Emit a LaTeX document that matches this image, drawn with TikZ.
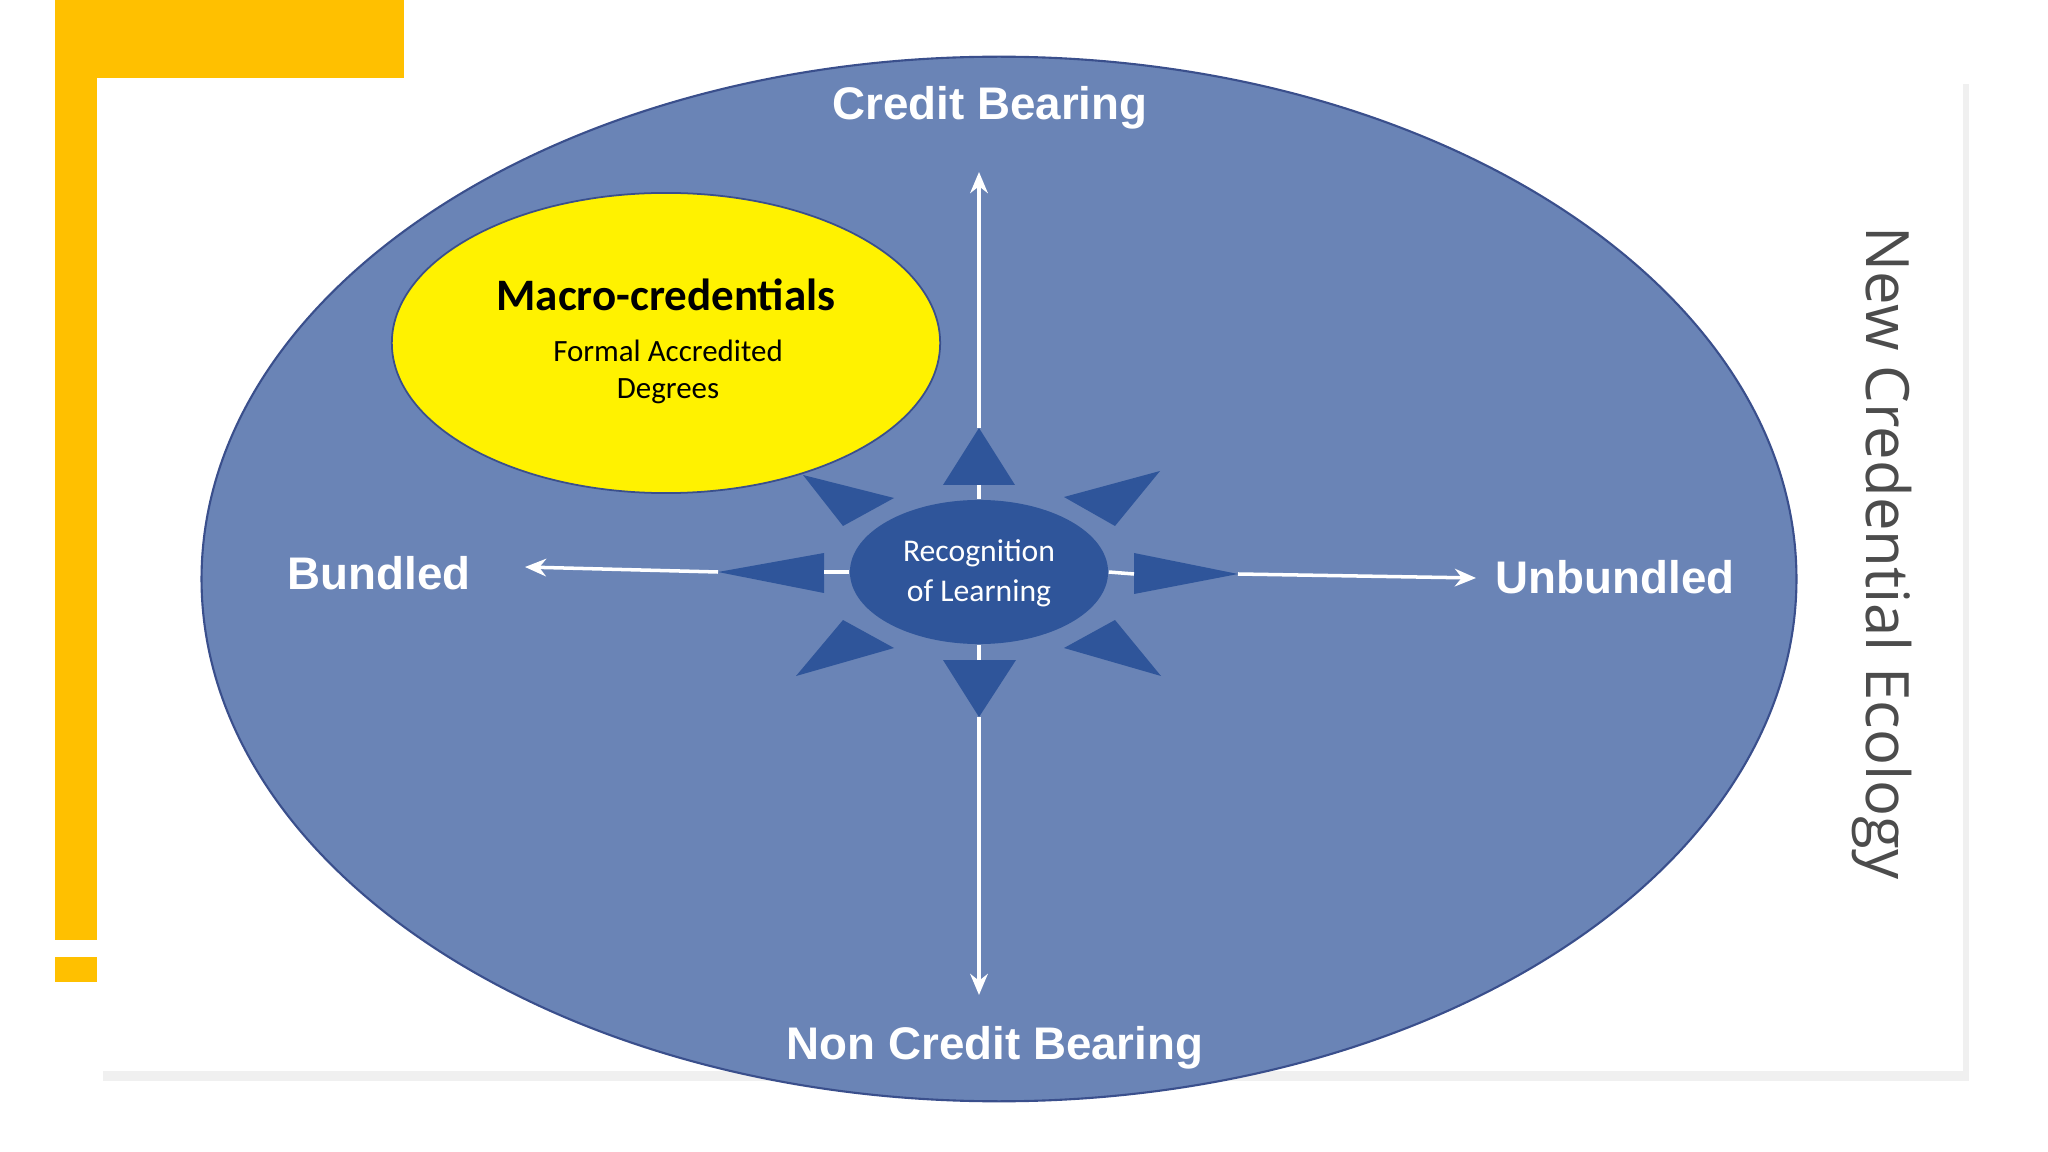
\documentclass[tikz,border=0pt]{standalone}
\usepackage{fontspec}
\usetikzlibrary{shapes.geometric,arrows.meta}
\setmainfont{Liberation Sans}
\newfontfamily\calfont{Carlito}
\newfontfamily\osans{Open Sans}
\definecolor{gold}{HTML}{FFC000}
\definecolor{bigblue}{HTML}{6A84B6}
\definecolor{darkblue}{HTML}{2F559A}
\definecolor{edgeblue}{HTML}{3A4F8C}
\tikzset{
  lbl/.style={text=white,font=\fontsize{13}{15}\selectfont\bfseries},
  tri/.style={fill=darkblue},
  wline/.style={draw=white,line width=1pt},
  warrow/.style={draw=white,line width=1pt,-{Stealth[length=6pt,width=5pt]}}
}
\begin{document}
\begin{tikzpicture}[x=0.01cm,y=-0.01cm]
\useasboundingbox (0,0) rectangle (2048,1152);
\fill[white] (0,0) rectangle (2048,1152);
% gold bars
\fill[gold] (55,0) rectangle (404,78);
\fill[gold] (55,0) rectangle (97,940);
\fill[gold] (55,957) rectangle (97,982);
% card with shadow
\fill[gray!12] (103,84) rectangle (1969,1081);
\fill[white] (97,78) rectangle (1963,1071);
% big ellipse
\node[ellipse,draw=edgeblue,line width=0.6pt,fill=bigblue,minimum width=15.94cm,minimum height=10.44cm,inner sep=0] (big) at (999,579) {};
% yellow ellipse
\node[ellipse,draw=edgeblue,line width=0.5pt,fill=yellow,minimum width=5.48cm,minimum height=3.0cm,inner sep=0] (macro) at (666,343) {};
\node[font=\calfont\fontsize{12.8}{15}\selectfont\bfseries] (mt) at (666,295) {Macro-credentials};
\node[font=\calfont\fontsize{8.8}{10.5}\selectfont,align=center] (ms) at (668,372) {Formal Accredited\\Degrees};
% center
\node[ellipse,fill=darkblue,minimum width=2.58cm,minimum height=1.44cm,inner sep=0] (rec) at (979,572) {};
\node[font=\calfont\fontsize{9}{11.4}\selectfont,text=white,align=center] (rect) at (979,573) {Recognition\\of Learning};
% triangles
\fill[tri] (979,428) -- (1015,485) -- (943,485) -- cycle;
\fill[tri] (979,717) -- (1016,660) -- (943,660) -- cycle;
\fill[tri] (718,572) -- (824,553) -- (824,593) -- cycle;
\fill[tri] (1238,574) -- (1134,553) -- (1134,594) -- cycle;
\fill[tri] (803,475) -- (894,498) -- (843,526) -- cycle;
\fill[tri] (1160,471) -- (1064,497) -- (1115,526) -- cycle;
\fill[tri] (843,620) -- (894,648) -- (796,676) -- cycle;
\fill[tri] (1115,620) -- (1064,648) -- (1161,676) -- cycle;
% coordinates
\coordinate (tu) at (979,428); \coordinate (tub) at (979,485);
\coordinate (td) at (979,717); \coordinate (tdb) at (979,660);
\coordinate (tl) at (718,572); \coordinate (tlb) at (824,572);
\coordinate (tr) at (1238,574); \coordinate (trb) at (1134,574);
\coordinate (au) at (979,172); \coordinate (ad) at (979,995);
\coordinate (al) at (525,567); \coordinate (ar) at (1476,578);
% stubs
\draw[wline] (tub) -- (rec.north);
\draw[wline] (tdb) -- (rec.south);
\draw[wline] (tlb) -- (rec.west);
\draw[wline] (trb) -- (rec.east);
% arrows
\draw[warrow] (tu) -- (au);
\draw[warrow] (td) -- (ad);
\draw[warrow] (tl) -- (al);
\draw[warrow] (tr) -- (ar);
% labels
\node[lbl] (cb) at (990,108) {Credit Bearing};
\node[lbl] (ncb) at (995,1048) {Non Credit Bearing};
\node[lbl] (bun) at (379,573) {Bundled};
\node[lbl] (unb) at (1615,577) {Unbundled};
\node[font=\osans\fontsize{17}{20}\selectfont,text=black!70,rotate=-90] (nce) at (1882,553) {New Credential Ecology};
\end{tikzpicture}
\end{document}
